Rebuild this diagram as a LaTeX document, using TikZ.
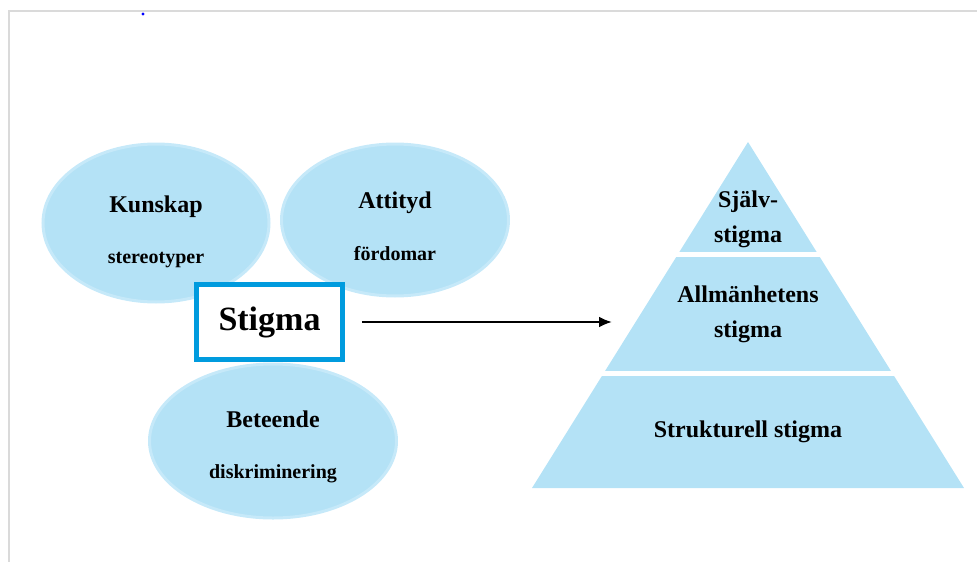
\documentclass[tikz,border=0pt]{standalone}
\usepackage{fontspec}
\setmainfont{Liberation Serif}
\usetikzlibrary{shapes.geometric}
\usetikzlibrary{arrows.meta}
\definecolor{paleblue}{RGB}{180,226,246}
\definecolor{rimblue}{RGB}{198,233,249}
\definecolor{boxblue}{RGB}{0,155,222}
\definecolor{framegray}{RGB}{218,218,218}

\begin{document}
\begin{tikzpicture}[x=1pt,y=-1pt,
        blob/.style={ellipse,fill=paleblue,draw=rimblue,line width=3pt,inner sep=0pt},
        head/.style={anchor=base,font=\fontsize{24}{28}\selectfont\bfseries},
        sub/.style={anchor=base,font=\fontsize{20}{23}\selectfont\bfseries},
        tier/.style={anchor=base,font=\fontsize{24}{28}\selectfont\bfseries}]
        \useasboundingbox (0,0) rectangle (977,562);
        \draw[framegray,line width=1.5pt] (9,562) -- (9,11) -- (977,11);
        \fill[blue] (143,14) circle (1.6pt);

        \node[blob,minimum width=226pt,minimum height=158pt] (kunskap) at (156,223) {};
        \node[blob,minimum width=227pt,minimum height=152pt] (attityd) at (395,220) {};
        \node[blob,minimum width=247pt,minimum height=154pt] (beteende) at (273,441) {};

        \node[head] (kunskapT) at ([yshift=11pt]kunskap.center) {Kunskap};
        \node[sub] (kunskapS) at ([yshift=-40pt]kunskap.center) {stereotyper};
        \node[head] (attitydT) at ([yshift=12pt]attityd.center) {Attityd};
        \node[sub] (attitydS) at ([yshift=-40pt]attityd.center) {fördomar};
        \node[head] (beteendeT) at ([yshift=14pt]beteende.center) {Beteende};
        \node[sub] (beteendeS) at ([yshift=-37pt]beteende.center) {diskriminering};

        \node[draw=boxblue,fill=white,line width=4.5pt,minimum width=146pt,minimum height=75pt,
            font=\fontsize{34}{40}\selectfont\bfseries] (stigma) at (269.5,322) {Stigma};

        \fill[paleblue] (748,142) -- (964,488) -- (532,488) -- cycle;
        \draw[white,line width=5pt] (650,254.5) -- (850,254.5);
        \draw[white,line width=5pt] (570,373.5) -- (930,373.5);

        \node[tier] (self1) at (748,207) {Själv-};
        \node[tier] (self2) at (748,242) {stigma};
        \node[tier] (public1) at (748,302) {Allmänhetens};
        \node[tier] (public2) at (748,337) {stigma};
        \node[tier] (structural) at (748,437) {Strukturell stigma};

        \coordinate (arrowtip) at (612,322);
        \draw[-{Latex[length=13pt,width=11pt]},line width=2.3pt] ([xshift=17pt]stigma.east) -- (arrowtip);
    \end{tikzpicture}
\end{document}
